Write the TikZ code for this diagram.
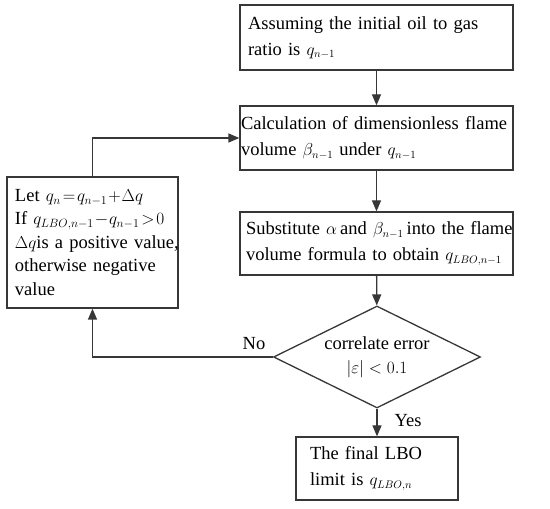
\documentclass[tikz,border=0pt]{standalone}
\usepackage{amsmath}
\usepackage{fontspec}
\setmainfont{Liberation Serif}
\usepackage{tikz}
\usetikzlibrary{arrows.meta, positioning, shapes.geometric}
\usepackage{xcolor}
\definecolor{linegray}{RGB}{55,55,55}
\newcommand{\eqsmall}[1]{{\fontsize{16}{16}\selectfont$#1$}}
\tikzset{
    % Process steps
    stepbox/.style={rectangle, draw=linegray, line width=1.3pt, align=left,
                minimum width=#1, text width=#1-16pt, inner xsep=8pt, inner ysep=0pt,
                font=\fontsize{18.5}{26}\selectfont},
    % Decision
    decbox/.style={diamond, draw=linegray, line width=1.3pt, align=center,
                minimum width=207pt, minimum height=102pt, aspect=2, inner sep=0pt,
                font=\fontsize{18.5}{24}\selectfont},
    flowarrow/.style={-{Triangle[length=11pt, width=9pt]}, line width=1.3pt, linegray},
    flowlbl/.style={font=\fontsize{18.5}{24}\selectfont},
}

\begin{document}
\begin{tikzpicture}[x=1pt, y=1pt]
\useasboundingbox (0,0) rectangle (550,509);

\node[stepbox=273pt, minimum height=65pt] (init)  at (376.5,471.5)
    {\mbox{Assuming the initial oil to gas}\\ratio is \eqsmall{q_{n-1}}};
\node[stepbox=273pt, minimum height=64pt, inner xsep=1pt, text width=271pt] (calc) at (376.5,371)
    {\mbox{Calculation of dimensionless flame}\\\mbox{volume \eqsmall{\beta_{n-1}} under \eqsmall{q_{n-1}}}};
\node[stepbox=273pt, minimum height=63pt, inner xsep=6pt, text width=261pt] (subst) at (376.5,265.5)
    {\mbox{Substitute $\alpha$\,and \eqsmall{\beta_{n-1}}\,into the flame}\\\mbox{volume formula to obtain \eqsmall{q_{LBO,n-1}}}};
\node[decbox] (check) at (377,152) {correlate error\\$|\varepsilon| < 0.1$};
\node[stepbox=162pt, minimum height=63pt, inner xsep=14pt, text width=134pt] (final) at (377,40.5)
    {The final LBO\\limit is \eqsmall{q_{LBO,n}}};
\node[stepbox=171pt, minimum height=131pt, font=\fontsize{18.5}{23.5}\selectfont,
      execute at begin node={\medmuskip=1mu\thickmuskip=2mu}] (update) at (92.5,266.5)
    {\mbox{Let $q_n = q_{n-1} + \Delta q$}\\\mbox{If $q_{LBO,n-1} - q_{n-1} > 0$}\\\mbox{$\Delta q$is a positive value,}\\otherwise negative\\value};

\draw[flowarrow] (init) -- (calc);
\draw[flowarrow] (calc) -- (subst);
\draw[flowarrow] (subst) -- (check);
\draw[flowarrow] (check) -- (final);
\draw[flowarrow] (update.north) |- (calc.west);
\draw[flowarrow] (check.west) -| (update.south);

\node[flowlbl, above left=4pt and 4pt of check.west] {No};
\node[flowlbl, below right=2pt and 14pt of check.south] {Yes};
\end{tikzpicture}
\end{document}
